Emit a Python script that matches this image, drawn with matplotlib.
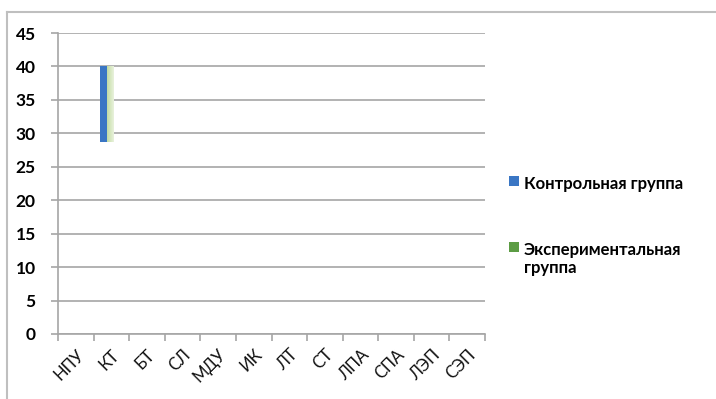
import numpy as np
import matplotlib
matplotlib.use("Agg")
import matplotlib.pyplot as plt
from matplotlib.lines import Line2D
from matplotlib.patches import Patch

plt.rcParams['font.family'] = ['Lato', 'DejaVu Sans']

categories = ["НПУ", "КТ", "БТ", "СЛ", "МДУ", "ИК", "ЛТ", "СТ", "ЛПА", "СПА", "ЛЭП", "СЭП"]
series_names = ["Контрольная группа", "Экспериментальная\nгруппа"]
# floating bars: lower and upper bound per category (NaN = no bar)
control_low = [np.nan, 28.7] + [np.nan] * 10
control_high = [np.nan, 40.0] + [np.nan] * 10
exper_low = [np.nan, 28.7] + [np.nan] * 10
exper_high = [np.nan, 40.0] + [np.nan] * 10
y_ticks = [0, 5, 10, 15, 20, 25, 30, 35, 40, 45]

blue = "#3a76c4"
green_handle = "#5c9c44"

W, H = 716, 399
fig = plt.figure(figsize=(W / 100, H / 100), dpi=100)
ax = fig.add_axes([58 / W, (H - 334) / H, (485 - 58) / W, (334 - 33) / H])

x = np.arange(len(categories))
bw = 0.195
lo_c, hi_c = np.array(control_low), np.array(control_high)
lo_e, hi_e = np.array(exper_low), np.array(exper_high)
ax.bar(x - 0.217, hi_c - lo_c, bottom=lo_c, width=bw, color=blue, zorder=3)
ebars = ax.bar(x - 0.02, hi_e - lo_e, bottom=lo_e, width=bw, facecolor="none",
               edgecolor="none", zorder=3)

# horizontal light-green gradient inside the experimental bars
grad = np.linspace(0, 1, 64).reshape(1, -1)
cmap = matplotlib.colors.LinearSegmentedColormap.from_list("g", ["#c3dca2", "#e9f2de"])
for rect in ebars:
    if np.isnan(rect.get_height()):
        continue
    x0, y0 = rect.get_x(), rect.get_y()
    im = ax.imshow(grad, extent=[x0, x0 + rect.get_width(), y0, y0 + rect.get_height()],
                   cmap=cmap, aspect="auto", zorder=3, interpolation="bilinear")
    im.set_clip_path(rect)

ax.set_xlim(-0.5, len(categories) - 0.5)
ax.set_ylim(0, 45)
ax.set_yticks(y_ticks)
ax.set_yticklabels([str(v) for v in y_ticks], fontsize=12.5, fontweight="bold")
ax.yaxis.grid(True, color="#a6a6a6", linewidth=1.2, zorder=0)
ax.set_axisbelow(True)

# category boundary ticks, labels at category centres
ax.set_xticks(np.arange(-0.5, len(categories), 1.0))
ax.set_xticklabels([])
ax.set_xticks(x, minor=True)
ax.set_xticklabels(categories, minor=True, rotation=45, ha="right",
                   rotation_mode="anchor", fontsize=12, color="#111111")
ax.tick_params(axis="x", which="major", length=5, color="#a6a6a6", width=1.2)
ax.tick_params(axis="x", which="minor", length=0, pad=9)
ax.tick_params(axis="y", length=5, color="#a6a6a6", width=1.2, pad=11)

for s in ["top", "right"]:
    ax.spines[s].set_visible(False)
for s in ["left", "bottom"]:
    ax.spines[s].set_color("#a6a6a6")
    ax.spines[s].set_linewidth(1.2)

# legend
handles = [Patch(facecolor=blue), Patch(facecolor=green_handle)]
leg = fig.legend(handles, series_names, loc="upper left",
                 bbox_to_anchor=(502 / W, 1 - 169 / H), frameon=False,
                 prop={"weight": "bold", "size": 12}, handlelength=0.6, handleheight=0.6,
                 handletextpad=0.3, labelspacing=3.0, borderaxespad=0)
# align each swatch with the first line of its label
for column in leg._legend_handle_box.get_children():
    for item in column.get_children():
        item.align = "top"

# chart frame
fig.add_artist(Line2D([7 / W, 1], [1 - 12 / H, 1 - 12 / H], transform=fig.transFigure,
                      color="#bfbfbf", linewidth=1.5))
fig.add_artist(Line2D([7 / W, 7 / W], [0, 1 - 12 / H], transform=fig.transFigure,
                      color="#bfbfbf", linewidth=1.5))

fig.savefig("out.png", dpi=100)
